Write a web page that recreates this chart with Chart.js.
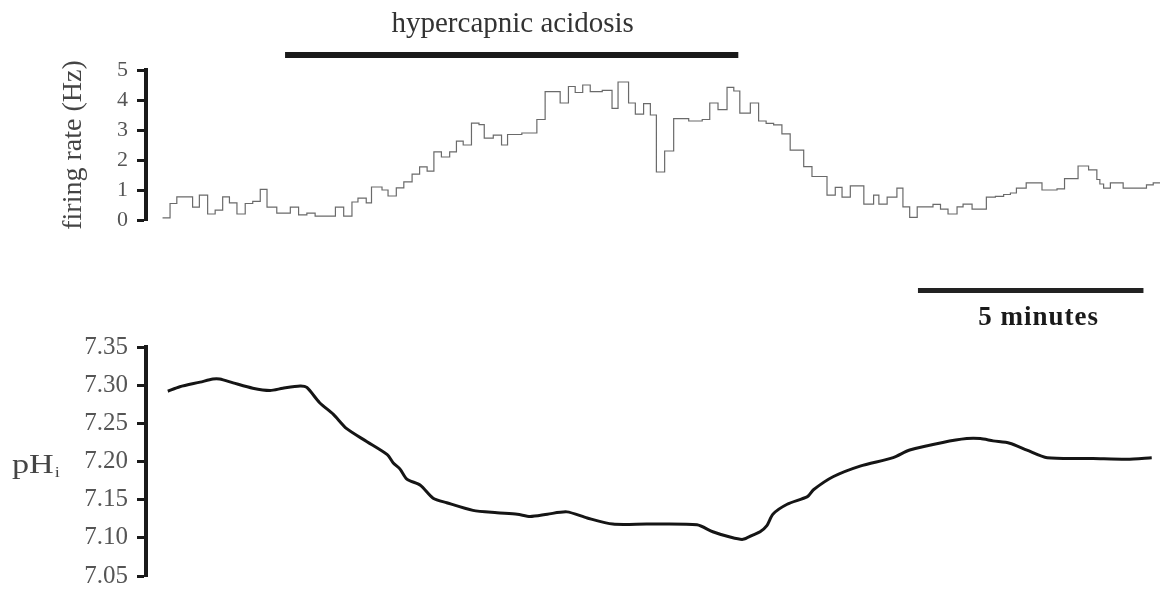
<!DOCTYPE html>
<html><head><meta charset="utf-8">
<script src="https://cdn.jsdelivr.net/npm/chart.js@4/dist/chart.umd.min.js"></script>
<style>
html,body{margin:0;padding:0;background:#fff;}
#wrap{position:relative;width:1165px;height:600px;overflow:hidden;background:#fff;}
#top{position:absolute;left:0;top:0;width:1165px;height:270px;}
#bot{position:absolute;left:0;top:270px;width:1165px;height:330px;}
</style></head><body>
<div id="wrap"><div id="top"><canvas id="c1"></canvas></div><div id="bot"><canvas id="c2"></canvas></div></div>
<script>
// ---- data (time in seconds) ----
const firingTimes = [0,10,19,40,49,60,70,80,89,99,110,120,130,139,152,170,181,192,203,230,241,252,260,271,278,292,300,311,321,332,342,352,361,371,382,391,400,411,421,428,440,451,459,478,498,509,529,540,549,559,569,585,598,606,620,629,640,649,657,668,680,700,718,728,739,751,760,768,782,793,803,813,824,835,853,864,884,895,904,915,933,946,953,964,977,985,994,1004,1025,1035,1045,1057,1065,1077,1096,1108,1119,1128,1136,1149,1170,1190,1200,1218,1232,1243,1247,1252,1261,1278,1309,1318,1327];
const firingRates = [0.07,0.55,0.77,0.43,0.83,0.2,0.33,0.77,0.57,0.2,0.55,0.62,1.02,0.43,0.23,0.43,0.17,0.23,0.13,0.43,0.13,0.6,0.73,0.57,1.1,1.0,0.8,1.07,1.27,1.53,1.77,1.63,2.27,2.1,2.27,2.63,2.5,3.23,3.18,2.73,2.83,2.5,2.85,2.9,3.35,4.28,3.9,4.45,4.25,4.5,4.28,4.32,3.72,4.6,3.9,3.53,3.88,3.5,1.6,2.3,3.38,3.3,3.35,3.9,3.68,4.42,4.3,3.56,3.9,3.3,3.22,3.17,2.87,2.33,1.78,1.45,0.83,1.09,0.76,1.14,0.53,0.83,0.53,0.76,1.06,0.44,0.09,0.44,0.52,0.36,0.2,0.44,0.53,0.36,0.76,0.79,0.85,0.9,1.06,1.24,1.0,1.04,1.38,1.8,1.67,1.35,1.2,1.06,1.24,1.06,1.17,1.24,1.24];
const phTimes = [7,23,50,67,76,94,120,143,160,183,192,209,227,245,272,299,307,316,325,343,360,378,413,445,472,489,512,538,565,599,645,711,732,755,772,786,795,804,812,831,858,866,892,928,972,994,1038,1070,1088,1105,1127,1150,1177,1238,1283,1316];
const phValues = [7.292,7.298,7.304,7.308,7.308,7.303,7.296,7.293,7.296,7.299,7.297,7.277,7.262,7.243,7.226,7.209,7.198,7.190,7.177,7.169,7.152,7.146,7.136,7.133,7.131,7.128,7.131,7.134,7.126,7.118,7.118,7.117,7.108,7.101,7.098,7.104,7.108,7.116,7.131,7.144,7.154,7.163,7.180,7.194,7.205,7.215,7.225,7.230,7.230,7.227,7.224,7.215,7.205,7.204,7.203,7.205];
const firingTicks = [0,1,2,3,4,5];
const phTicks = [7.05,7.10,7.15,7.20,7.25,7.30,7.35];
const hypercapnia = [163,766];
const scaleBar = [1005,1305];
const hypercapniaLabel = 'hypercapnic acidosis';
const scaleBarLabel = '5 minutes';
const firingLabel = 'firing rate (Hz)';
const timeRange = [-22,1331];

const SERIF = '"Liberation Serif", "Times New Roman", serif';
const AXIS = '#1a1a1a';

function yAxis(min, max, ticks, size, fmt) {
  return {
    min, max,
    afterBuildTicks: s => { s.ticks = ticks.map(v => ({value: v})); },
    afterFit: s => { s.width = 146; },
    ticks: { font: {family: SERIF, size}, color: '#555', padding: 9, callback: fmt },
    grid: { drawOnChartArea: false, drawTicks: true, tickLength: 9, tickWidth: 3, tickColor: AXIS },
    border: { display: true, color: AXIS, width: 4 }
  };
}

const topDecor = {
  id: 'topDecor',
  afterDraw(chart) {
    const {ctx} = chart; const x = chart.scales.x;
    const x1 = x.getPixelForValue(hypercapnia[0]), x2 = x.getPixelForValue(hypercapnia[1]);
    ctx.save();
    ctx.strokeStyle = AXIS; ctx.lineWidth = 6;
    ctx.beginPath(); ctx.moveTo(x1, 55); ctx.lineTo(x2, 55); ctx.stroke();
    ctx.fillStyle = '#333'; ctx.font = '29px ' + SERIF;
    ctx.textAlign = 'center'; ctx.textBaseline = 'alphabetic';
    ctx.fillText(hypercapniaLabel, (x1 + x2) / 2 + 1, 32);
    ctx.restore();
  }
};

const botDecor = {
  id: 'botDecor',
  afterDraw(chart) {
    const {ctx} = chart; const x = chart.scales.x;
    const x1 = x.getPixelForValue(scaleBar[0]), x2 = x.getPixelForValue(scaleBar[1]);
    ctx.save();
    ctx.strokeStyle = '#222'; ctx.lineWidth = 5;
    ctx.beginPath(); ctx.moveTo(x1, 20.5); ctx.lineTo(x2, 20.5); ctx.stroke();
    ctx.fillStyle = '#1a1a1a'; ctx.font = 'bold 27px ' + SERIF;
    try { ctx.letterSpacing = '1px'; } catch (e) {}
    ctx.textAlign = 'center'; ctx.textBaseline = 'alphabetic';
    ctx.fillText(scaleBarLabel, (x1 + x2) / 2 + 8, 55);
    try { ctx.letterSpacing = '0px'; } catch (e) {}
    ctx.restore();
    // pH_i axis label (slightly widened like the original lettering)
    ctx.save();
    ctx.fillStyle = '#444'; ctx.textAlign = 'left'; ctx.textBaseline = 'alphabetic';
    ctx.translate(12, 203);
    ctx.scale(1.22, 1);
    ctx.font = '28px ' + SERIF;
    ctx.fillText('pH', 0, 0);
    ctx.font = '15px ' + SERIF;
    ctx.fillText('i', 35, 4);
    ctx.restore();
  }
};

const xAxis = { type: 'linear', min: timeRange[0], max: timeRange[1], display: false };

new Chart(document.getElementById('c1'), {
  type: 'line',
  data: { datasets: [{
    data: firingTimes.map((t, i) => ({x: t, y: firingRates[i]})),
    stepped: true, borderColor: '#6a6a6a', borderWidth: 1.2, pointRadius: 0, fill: false
  }]},
  options: {
    responsive: true, maintainAspectRatio: false, animation: false,
    layout: { padding: {top: 70, bottom: 50, left: 0, right: 2} },
    plugins: { legend: {display: false}, tooltip: {enabled: false} },
    scales: {
      x: xAxis,
      y: Object.assign(yAxis(0, 5, firingTicks, 22, v => String(v)), {
        title: { display: true, text: firingLabel, font: {family: SERIF, size: 28}, color: '#444', padding: {top: 57, bottom: 0} }
      })
    }
  },
  plugins: [topDecor]
});

new Chart(document.getElementById('c2'), {
  type: 'line',
  data: { datasets: [{
    data: phTimes.map((t, i) => ({x: t, y: phValues[i]})),
    borderColor: '#151515', borderWidth: 3, pointRadius: 0, fill: false, tension: 0.25
  }]},
  options: {
    responsive: true, maintainAspectRatio: false, animation: false,
    layout: { padding: {top: 77, bottom: 16, left: 0, right: 2} },
    plugins: { legend: {display: false}, tooltip: {enabled: false} },
    scales: {
      x: Object.assign({}, xAxis),
      y: yAxis(7.05, 7.35, phTicks, 25, v => Number(v).toFixed(2))
    }
  },
  plugins: [botDecor]
});
</script>
</body></html>
